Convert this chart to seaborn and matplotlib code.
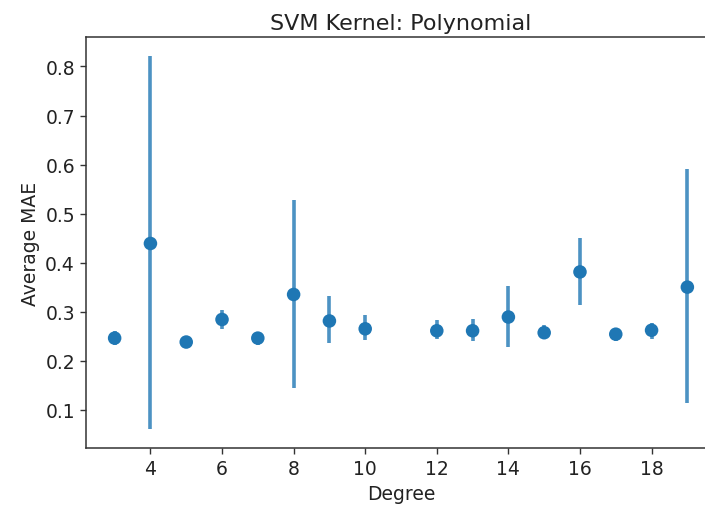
import seaborn as sns
import pandas as pd
import numpy as np
import matplotlib.pyplot as plt

degree = [3, 4, 5, 6, 7, 8, 9, 10, 12, 13, 14, 15, 16, 17, 18, 19]
mae = [0.246, 0.439, 0.238, 0.284, 0.246, 0.335, 0.281, 0.265,
       0.261, 0.261, 0.289, 0.257, 0.381, 0.254, 0.262, 0.350]
err_low = [0.231, 0.060, 0.226, 0.264, 0.232, 0.144, 0.237, 0.243,
           0.245, 0.240, 0.228, 0.245, 0.313, 0.241, 0.245, 0.113]
err_high = [0.261, 0.822, 0.250, 0.304, 0.259, 0.528, 0.332, 0.294,
            0.282, 0.286, 0.352, 0.272, 0.451, 0.266, 0.277, 0.591]

data = pd.DataFrame({'Degree': degree, 'Average MAE': mae})
yerr = np.array([np.array(mae) - np.array(err_low), np.array(err_high) - np.array(mae)])

sns.set_style('ticks')
plt.rcParams['font.family'] = ['DejaVu Sans']
fig = plt.figure(figsize=(7.05, 5.1), dpi=100)
# axes runs a little past the right edge, like the cropped original
ax = fig.add_axes([86 / 705, 1 - 449 / 510, 630 / 705, 411 / 510])

ax.errorbar(degree, mae, yerr=yerr, fmt='none', ecolor='#1f77b4', elinewidth=2.6, alpha=0.8)
sns.scatterplot(x='Degree', y='Average MAE', data=data, color='#1f77b4', s=95, edgecolor='none', ax=ax)

ax.set_xlim(2.2, 19.8)
ax.set_xticks([4, 6, 8, 10, 12, 14, 16, 18])
ax.set_title('SVM Kernel: Polynomial', fontsize=16, color='#222222')
ax.set_xlabel('Degree', fontsize=13.5, color='#222222')
ax.set_ylabel('Average MAE', fontsize=13.5, color='#222222')
ax.tick_params(labelsize=13.5, length=4.5, width=1, colors='#333333', labelcolor='#222222')
for s in ax.spines.values():
    s.set_color('#333333')
    s.set_linewidth(1.1)
ax.spines['right'].set_visible(False)

fig.savefig('out.png', dpi=100)
